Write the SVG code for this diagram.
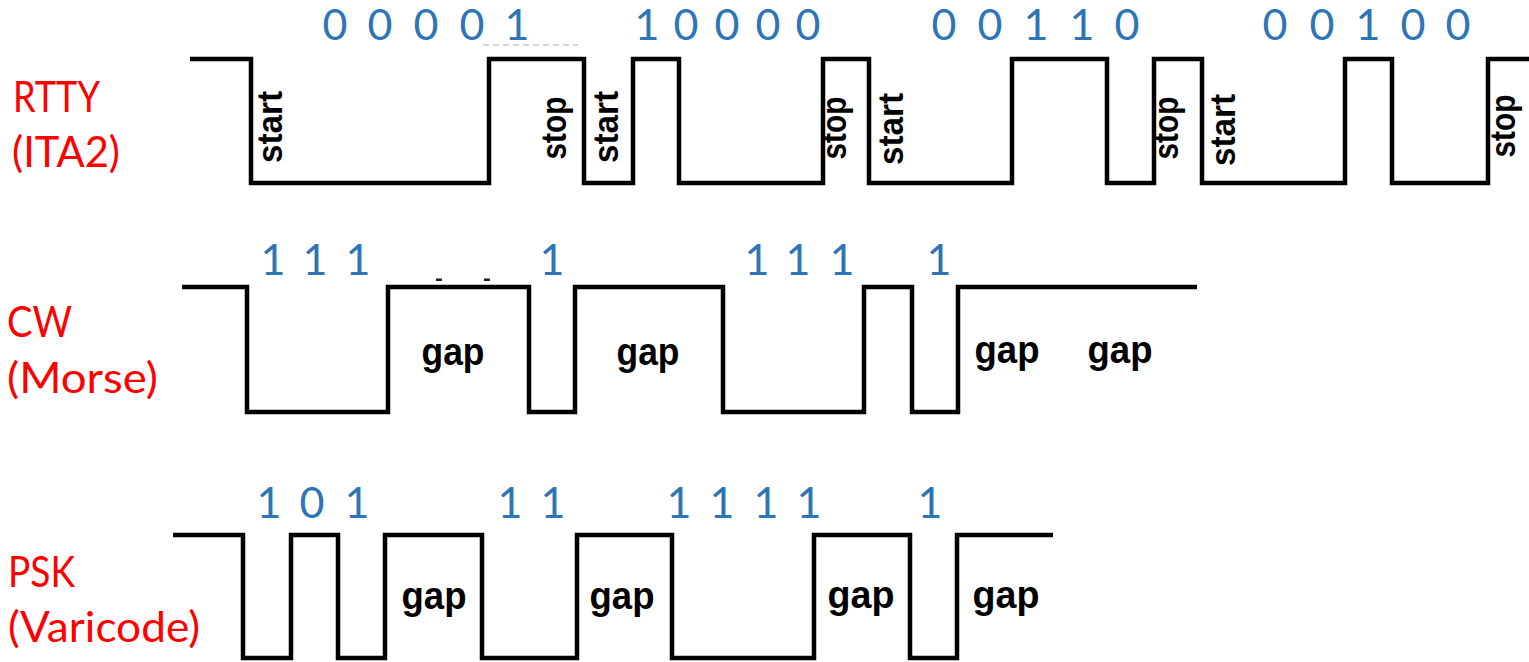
<svg xmlns="http://www.w3.org/2000/svg" width="1529" height="662" viewBox="0 0 1529 662">
<style>
.wave{fill:none;stroke:#000;stroke-width:4.5;stroke-linejoin:miter;stroke-linecap:butt}
.lbl{font-family:Lato,"Liberation Sans",sans-serif;font-size:43px;fill:#FF0000}
.bit{font-family:Lato,"Liberation Sans",sans-serif;font-size:43px;fill:#2E75B6;text-anchor:middle}
.gap{font-family:"Liberation Sans",Arial,sans-serif;font-weight:bold;font-size:39px;fill:#000;text-anchor:middle}
.rot{font-family:"Liberation Sans",Arial,sans-serif;font-weight:bold;font-size:35px;fill:#000;text-anchor:middle}
</style>
<rect width="1529" height="662" fill="#fff"/>

<g id="rtty">
  <text class="lbl" x="13" y="112" textLength="87" lengthAdjust="spacingAndGlyphs">RTTY</text>
  <text class="lbl" x="12" y="167" textLength="108" lengthAdjust="spacingAndGlyphs">(ITA2)</text>
  <line x1="483" y1="45" x2="578" y2="45" stroke="#c8c8c8" stroke-width="1.5" stroke-dasharray="6 4"/>
  <polyline class="wave" points="190,59 251,59 251,183 489,183 489,59 584,59 584,183 633,183 633,59 679,59 679,183 823,183 823,59 869,59 869,183 1012,183 1012,59 1107,59 1107,183 1154,183 1154,59 1202,59 1202,183 1345,183 1345,59 1392,59 1392,183 1488,183 1488,59 1529,59"/>
  <text class="bit" x="335 357 380 403 426 449 472 494 517" y="40">0 0 0 0 1</text>
  <text class="bit" x="647 666 686 706 727 747 768 788 808" y="40">1 0 0 0 0</text>
  <text class="bit" x="944 967 990 1013 1036 1059 1082 1104 1127" y="40">0 0 1 1 0</text>
  <text class="bit" x="1275 1298 1322 1345 1368 1390 1413 1435 1458" y="40">0 0 1 0 0</text>
  <text class="rot" transform="translate(282,127) rotate(-90)" textLength="72" lengthAdjust="spacingAndGlyphs">start</text>
  <text class="rot" transform="translate(566,128) rotate(-90)" textLength="63" lengthAdjust="spacingAndGlyphs">stop</text>
  <text class="rot" transform="translate(618,127) rotate(-90)" textLength="72" lengthAdjust="spacingAndGlyphs">start</text>
  <text class="rot" transform="translate(846,128) rotate(-90)" textLength="63" lengthAdjust="spacingAndGlyphs">stop</text>
  <text class="rot" transform="translate(903,129) rotate(-90)" textLength="72" lengthAdjust="spacingAndGlyphs">start</text>
  <text class="rot" transform="translate(1178,128) rotate(-90)" textLength="63" lengthAdjust="spacingAndGlyphs">stop</text>
  <text class="rot" transform="translate(1235,130) rotate(-90)" textLength="72" lengthAdjust="spacingAndGlyphs">start</text>
  <text class="rot" transform="translate(1515,126) rotate(-90)" textLength="63" lengthAdjust="spacingAndGlyphs">stop</text>
</g>

<g id="cw">
  <text class="lbl" x="7" y="337" textLength="65" lengthAdjust="spacingAndGlyphs">CW</text>
  <text class="lbl" x="7" y="393" textLength="151" lengthAdjust="spacingAndGlyphs">(Morse)</text>
  <rect x="436" y="278.5" width="6" height="2.5" fill="#222"/>
  <rect x="484" y="278.5" width="6" height="2.5" fill="#222"/>
  <polyline class="wave" points="182,287 247,287 247,412 388,412 388,287 529,287 529,412 575,412 575,287 723,287 723,412 864,412 864,287 912,287 912,412 958,412 958,287 1197,287"/>
  <text class="bit" x="273 294 315 336 358" y="275">1 1 1</text>
  <text class="bit" x="552" y="275">1</text>
  <text class="bit" x="757 777 798 820 842" y="275">1 1 1</text>
  <text class="bit" x="939" y="275">1</text>
  <text class="gap" x="453" y="365" textLength="63" lengthAdjust="spacingAndGlyphs">gap</text>
  <text class="gap" x="648" y="365" textLength="63" lengthAdjust="spacingAndGlyphs">gap</text>
  <text class="gap" x="1007" y="363" textLength="65" lengthAdjust="spacingAndGlyphs">gap</text>
  <text class="gap" x="1120" y="363" textLength="65" lengthAdjust="spacingAndGlyphs">gap</text>
</g>

<g id="psk">
  <text class="lbl" x="8" y="587" textLength="67" lengthAdjust="spacingAndGlyphs">PSK</text>
  <text class="lbl" x="8" y="642" textLength="192" lengthAdjust="spacingAndGlyphs">(Varicode)</text>
  <polyline class="wave" points="173,535 243,535 243,658 291,658 291,535 338,535 338,658 385,658 385,535 482,535 482,658 577,658 577,535 672,535 672,658 814,658 814,535 910,535 910,658 957,658 957,535 1053,535"/>
  <text class="bit" x="269 290 312 334 357" y="518">1 0 1</text>
  <text class="bit" x="510 531 553" y="518">1 1</text>
  <text class="bit" x="679 700 722 744 766 787 809" y="518">1 1 1 1</text>
  <text class="bit" x="930" y="518">1</text>
  <text class="gap" x="434" y="609" textLength="65" lengthAdjust="spacingAndGlyphs">gap</text>
  <text class="gap" x="622" y="609" textLength="65" lengthAdjust="spacingAndGlyphs">gap</text>
  <text class="gap" x="861" y="608" textLength="67" lengthAdjust="spacingAndGlyphs">gap</text>
  <text class="gap" x="1006" y="608" textLength="67" lengthAdjust="spacingAndGlyphs">gap</text>
</g>
</svg>
